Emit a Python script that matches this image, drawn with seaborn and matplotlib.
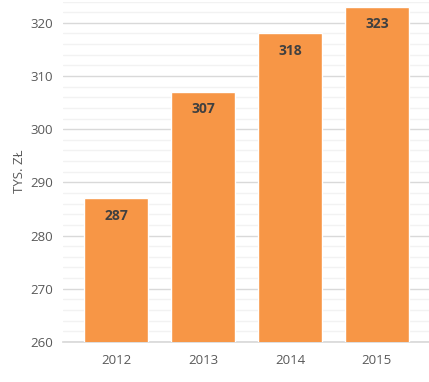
import numpy as np
import pandas as pd
import matplotlib
matplotlib.use("Agg")
import matplotlib.pyplot as plt
import seaborn as sns

years = ["2012", "2013", "2014", "2015"]
values = [287, 307, 318, 323]

df = pd.DataFrame({"year": years, "value": values})

sns.set_theme(style="white")
plt.rcParams["font.family"] = ["Open Sans", "DejaVu Sans"]

fig = plt.figure(figsize=(4.29, 3.82), dpi=100)
ax = fig.add_axes([0.147, 0.105, 0.853, 0.891])

sns.barplot(data=df, x="year", y="value", color="#F79646", saturation=1,
            width=0.74, ax=ax, zorder=3)

ax.set_ylim(260, 324)
ax.set_xlim(-0.61, 3.6)
ax.set_yticks(np.arange(260, 321, 10))
ax.set_yticks(np.arange(262, 325, 2), minor=True)
ax.grid(axis="y", which="major", color="#D9D9D9", linewidth=1, zorder=0)
ax.grid(axis="y", which="minor", color="#F2F2F2", linewidth=1, zorder=0)
ax.set_axisbelow(True)
for s in ["top", "right", "left"]:
    ax.spines[s].set_visible(False)
ax.spines["bottom"].set_color("#D9D9D9")

ax.tick_params(axis="both", which="both", length=0, labelsize=9.5, colors="#595959")
ax.tick_params(axis="x", pad=9)
ax.tick_params(axis="y", pad=7)
ax.set_xlabel("")
ax.set_ylabel("TYS. ZŁ", fontsize=9.5, color="#595959", labelpad=3)

for i, v in enumerate(values):
    ax.text(i, v - 3.3, str(v), ha="center", va="center", fontsize=10,
            fontweight="bold", color="#404040", zorder=4)

fig.savefig("out.png", dpi=100)
